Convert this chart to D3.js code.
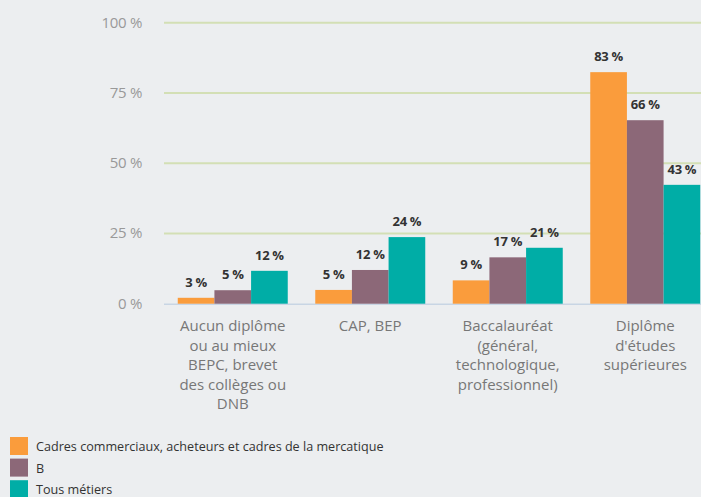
<!DOCTYPE html>
<html><head><meta charset="utf-8">
<script src="https://cdn.jsdelivr.net/npm/d3@7"></script>
<style>
body{margin:0;background:#eceef0;}
svg{display:block;font-family:"Open Sans",sans-serif;}
</style></head>
<body>
<svg id="c" width="701" height="497"></svg>
<script>
const categories = [
  ["Aucun diplôme","ou au mieux","BEPC, brevet","des collèges ou","DNB"],
  ["CAP, BEP"],
  ["Baccalauréat","(général,","technologique,","professionnel)"],
  ["Diplôme","d'études","supérieures"]
];
const seriesNames = ["Cadres commerciaux, acheteurs et cadres de la mercatique","B","Tous métiers"];
const seriesColors = ["#fa9c3c","#8c6878","#00ada6"];
const cadresValues = [2.1, 4.9, 8.3, 82.4];
const bValues = [4.8, 12.0, 16.5, 65.3];
const tousValues = [11.7, 23.7, 19.9, 42.3];
const cadresLabels = ["3 %","5 %","9 %","83 %"];
const bLabels = ["5 %","12 %","17 %","66 %"];
const tousLabels = ["12 %","24 %","21 %","43 %"];
const yTicks = [0,25,50,75,100];

const series = [
  {name:seriesNames[0], values:cadresValues, labels:cadresLabels, color:seriesColors[0]},
  {name:seriesNames[1], values:bValues, labels:bLabels, color:seriesColors[1]},
  {name:seriesNames[2], values:tousValues, labels:tousLabels, color:seriesColors[2]}
];

const svg = d3.select("#c");
const x = d3.scaleBand().domain(d3.range(categories.length)).range([164,714]).paddingInner(0.2).paddingOuter(0.1);
const x1 = d3.scaleBand().domain(d3.range(series.length)).range([0,x.bandwidth()]);
const y = d3.scaleLinear().domain([0,100]).range([303.7,22.7]);

// grid
svg.append("g").selectAll("line").data(yTicks.filter(d=>d>0)).join("line")
  .attr("x1",164).attr("x2",701).attr("y1",d=>y(d)).attr("y2",d=>y(d))
  .attr("stroke","#d3dfb5").attr("stroke-width",2);
svg.append("line").attr("x1",164).attr("x2",701).attr("y1",y(0)+0.5).attr("y2",y(0)+0.5)
  .attr("stroke","#c8d5e4").attr("stroke-width",1.5);
// y labels
svg.append("g").selectAll("text").data(yTicks).join("text")
  .attr("x",142).attr("y",d=>y(d)+5).attr("text-anchor","end")
  .attr("font-size",15).attr("fill","#999").attr("letter-spacing",-0.3).text(d=>d+" %");

// bars
const g = svg.append("g");
series.forEach((s,si)=>{
  g.append("g").selectAll("rect").data(s.values).join("rect")
    .attr("x",(d,i)=>x(i)+x1(si)).attr("width",x1.bandwidth())
    .attr("y",d=>y(d)).attr("height",d=>y(0)-y(d))
    .attr("fill",s.color);
  g.append("g").selectAll("text").data(s.values).join("text")
    .attr("x",(d,i)=>x(i)+x1(si)+x1.bandwidth()/2).attr("y",d=>y(d)-11)
    .attr("text-anchor","middle").attr("font-size",13).attr("font-weight","bold")
    .attr("letter-spacing",-0.3)
    .attr("fill","#333").text((d,i)=>s.labels[i]);
});

// category labels
categories.forEach((lines,i)=>{
  const t = svg.append("text").attr("text-anchor","middle").attr("font-size",15).attr("fill","#777");
  lines.forEach((l,j)=>{
    t.append("tspan").attr("x",x(i)+x.bandwidth()/2).attr("y",331+j*19.5).text(l);
  });
});

// legend
const lg = svg.append("g");
series.forEach((s,i)=>{
  lg.append("rect").attr("x",10).attr("y",437+i*21.6).attr("width",18).attr("height",18).attr("fill",s.color);
  lg.append("text").attr("x",36).attr("y",451+i*21.6).attr("font-size",12.6).attr("fill","#333").text(s.name);
});
</script>
</body></html>
